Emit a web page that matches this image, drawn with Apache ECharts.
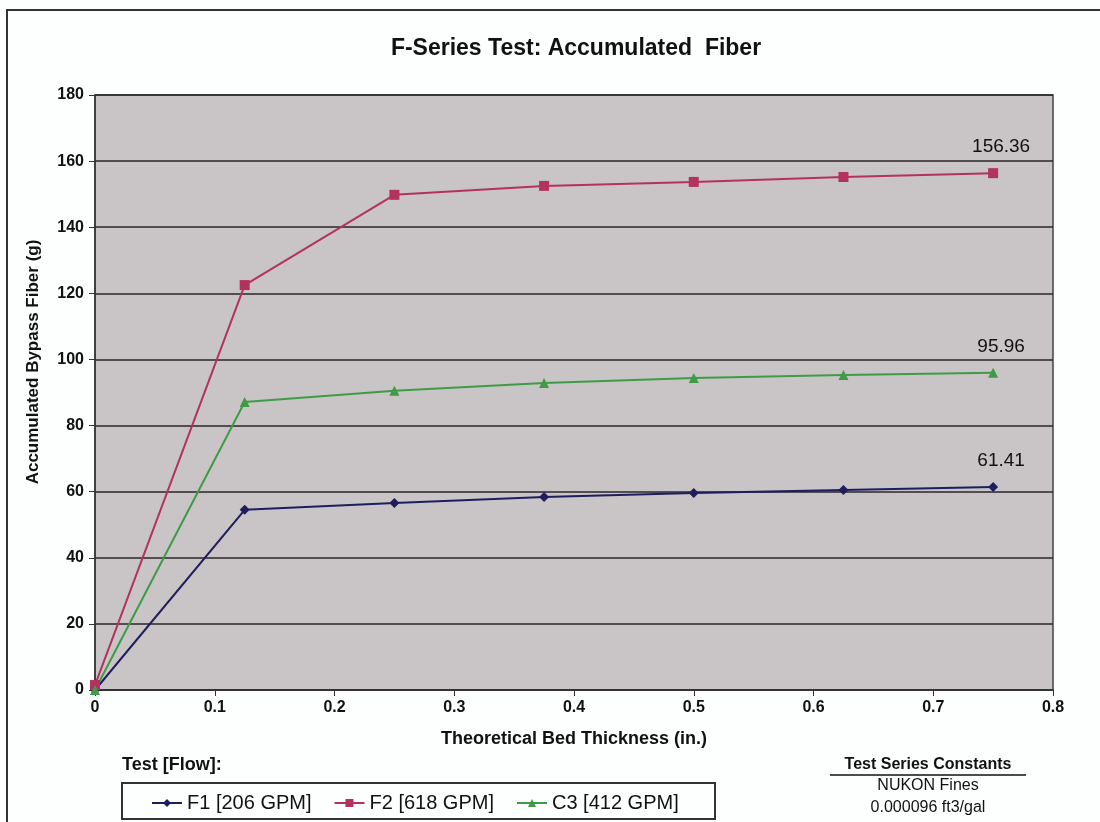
<!DOCTYPE html>
<html><head><meta charset="utf-8">
<script src="https://cdn.jsdelivr.net/npm/echarts@6/dist/echarts.min.js"></script>
<style>html,body{margin:0;padding:0;background:#fdfefe;}#c{width:1100px;height:822px;}</style>
</head><body><div id="c"></div>
<script>
const xVals = [0, 0.125, 0.25, 0.375, 0.5, 0.625, 0.75];
const f1 = [0, 54.5, 56.6, 58.4, 59.6, 60.5, 61.41];
const f2 = [1.5, 122.5, 149.8, 152.5, 153.7, 155.2, 156.36];
const c3 = [0, 87.1, 90.5, 92.9, 94.4, 95.3, 95.96];
const seriesNames = ['F1 [206 GPM]', 'F2 [618 GPM]', 'C3 [412 GPM]'];
const seriesColors = ['#1f1d5e', '#b3325f', '#3f9b45'];
const seriesSymbols = ['diamond', 'rect', 'triangle'];
const seriesSizes = [10, 10, 10];
const allData = [f1, f2, c3];

const chart = echarts.init(document.getElementById('c'));
const font = 'Liberation Sans, Arial, sans-serif';
const series = allData.map((d, i) => ({
  name: seriesNames[i],
  type: 'line',
  data: d.map((v, j) => {
    const p = {value: [xVals[j], v]};
    if (j === d.length - 1) {
      p.label = {show: true, position: 'top', distance: 12, offset: [8, 0], formatter: v.toFixed(2),
        fontFamily: font, fontSize: 19, color: '#111'};
    }
    return p;
  }),
  symbol: seriesSymbols[i],
  symbolSize: seriesSizes[i],
  lineStyle: {color: seriesColors[i], width: 2},
  itemStyle: {color: seriesColors[i]},
  z: 3
}));

chart.setOption({
  animation: false,
  backgroundColor: '#fdfefe',
  graphic: [
    {type: 'rect', shape: {x: 7, y: 10, width: 1110, height: 830}, style: {fill: 'none', stroke: '#333', lineWidth: 2}, silent: true},
    {type: 'text', x: 576, y: 37, style: {text: 'F-Series Test: Accumulated  Fiber', textAlign: 'center', fontFamily: font, fontSize: 23, fontWeight: 'bold', fill: '#111'}},
    {type: 'text', x: 33, y: 362, rotation: Math.PI / 2, style: {text: 'Accumulated Bypass Fiber (g)', textAlign: 'center', textVerticalAlign: 'middle', fontFamily: font, fontSize: 17, fontWeight: 'bold', fill: '#111'}},
    {type: 'rect', shape: {x: 122, y: 783, width: 593, height: 36}, style: {fill: 'none', stroke: '#333', lineWidth: 2}, silent: true},
    {type: 'text', x: 122, y: 756, style: {text: 'Test [Flow]:', fontFamily: font, fontSize: 18, fontWeight: 'bold', fill: '#111'}},
    {type: 'text', x: 928, y: 757, style: {text: 'Test Series Constants', textAlign: 'center', fontFamily: font, fontSize: 16, fontWeight: 'bold', fill: '#111'}},
    {type: 'line', shape: {x1: 830, y1: 775, x2: 1026, y2: 775}, style: {stroke: '#111', lineWidth: 1.5}},
    {type: 'text', x: 928, y: 778, style: {text: 'NUKON Fines', textAlign: 'center', fontFamily: font, fontSize: 16, fill: '#111'}},
    {type: 'text', x: 928, y: 800, style: {text: '0.000096 ft3/gal', textAlign: 'center', fontFamily: font, fontSize: 16, fill: '#111'}}
  ],
  grid: {left: 95, right: 47, top: 95, bottom: 132, show: true, backgroundColor: '#c9c4c6', borderColor: '#444', borderWidth: 1.5},
  xAxis: {type: 'value', min: 0, max: 0.8, interval: 0.1,
    name: 'Theoretical Bed Thickness (in.)', nameLocation: 'middle', nameGap: 40,
    nameTextStyle: {fontFamily: font, fontSize: 18, fontWeight: 'bold', color: '#111'},
    axisLine: {lineStyle: {color: '#333', width: 1.5}},
    axisTick: {show: true, inside: false, length: 6, lineStyle: {color: '#333'}},
    axisLabel: {fontFamily: font, fontSize: 16, fontWeight: 'bold', color: '#111', margin: 10,
      formatter: v => (Math.round(v*10)/10).toString()},
    splitLine: {show: false}},
  yAxis: {type: 'value', min: 0, max: 180, interval: 20,
    axisLine: {show: true, lineStyle: {color: '#333', width: 1.5}},
    axisTick: {show: true, inside: false, length: 6, lineStyle: {color: '#333'}},
    axisLabel: {fontFamily: font, fontSize: 16, fontWeight: 'bold', color: '#111', margin: 11},
    splitLine: {show: true, lineStyle: {color: '#2a2628', width: 1.6}}},
  legend: {data: seriesNames, left: 146, top: 788, itemGap: 22, itemWidth: 30, itemHeight: 10,
    textStyle: {fontFamily: font, fontSize: 20, color: '#111'}},
  series: series
});
</script>
</body></html>
